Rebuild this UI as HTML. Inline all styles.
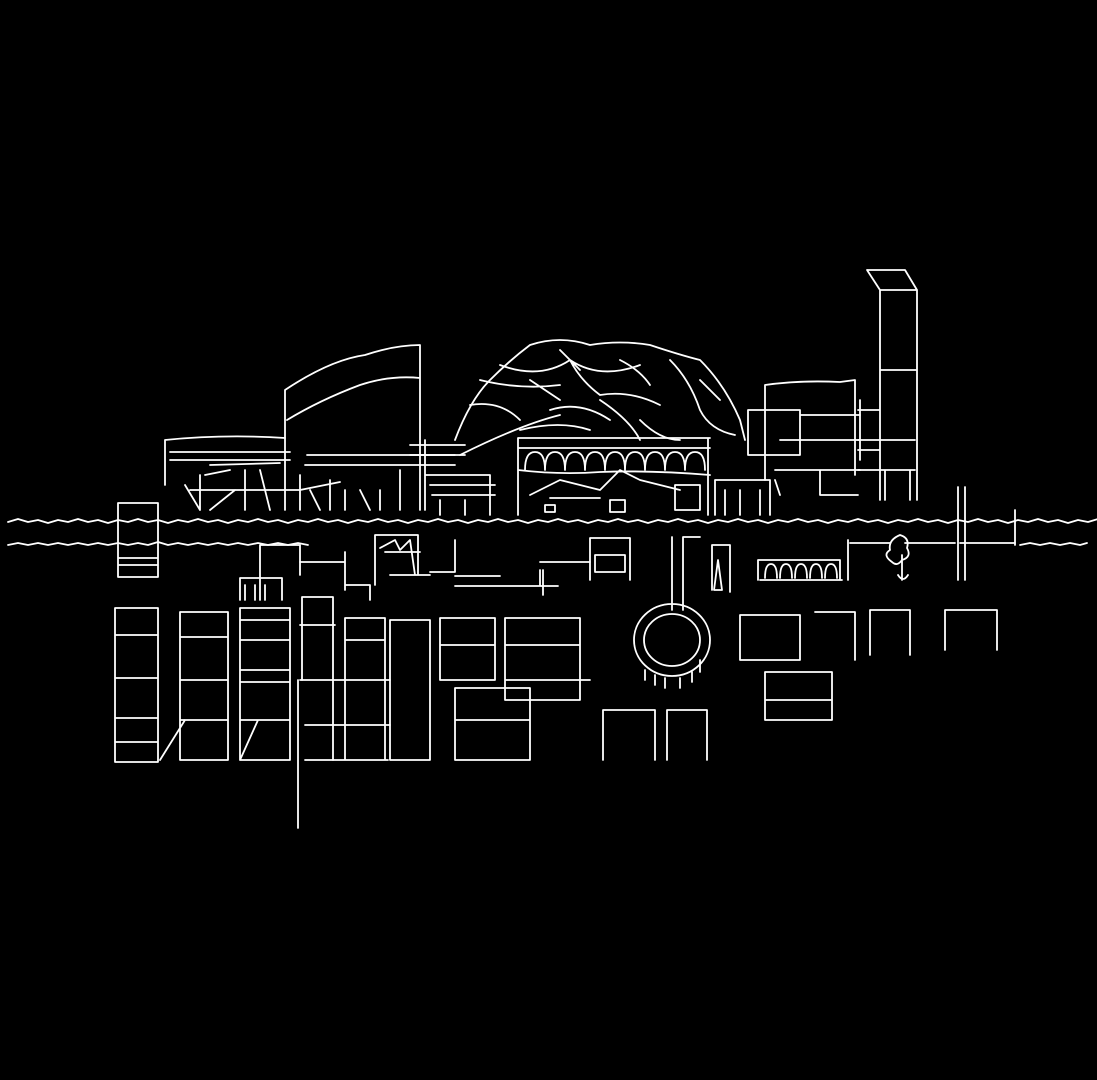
<!DOCTYPE html>
<html><head><meta charset="utf-8"><style>html,body{margin:0;padding:0;background:#000;}svg{display:block}</style></head>
<body>
<svg width="1097" height="1080" viewBox="0 0 1097 1080" xmlns="http://www.w3.org/2000/svg">
<rect width="1097" height="1080" fill="#000"/>
<g fill="none" stroke="#fff" stroke-width="1.8" stroke-linecap="round" stroke-linejoin="round">
<!-- main wavy lines -->
<path d="M8,522 l10,-3 l10,3 l10,-2 l10,3 l10,-3 l10,2 l10,-3 l10,3 l10,-2 l10,3 l10,-3 l10,2 l10,-3 l10,3 l10,-2 l10,3 l10,-3 l10,2 l10,-3 l10,3 l10,-2 l10,3 l10,-3 l10,2 l10,-3 l10,3 l10,-2 l10,3 l10,-3 l10,2 l10,-3 l10,3 l10,-2 l10,3 l10,-3 l10,2 l10,-3 l10,3 l10,-2 l10,3 l10,-3 l10,2 l10,-3 l10,3 l10,-2 l10,3 l10,-3 l10,2 l10,-3 l10,3 l10,-2 l10,3 l10,-3 l10,2 l10,-3 l10,3 l10,-2 l10,3 l10,-3 l10,2 l10,-3 l10,3 l10,-2 l10,3 l10,-3 l10,2 l10,-3 l10,3 l10,-2 l10,3 l10,-3 l10,2 l10,-3 l10,3 l10,-2 l10,3 l10,-3 l10,2 l10,-3 l10,3 l10,-2 l10,3 l10,-3 l10,2 l10,-3 l10,3 l10,-2 l10,3 l10,-3 l10,2 l10,-3 l10,3 l10,-2 l10,3 l10,-3 l10,2 l10,-3 l10,3 l10,-2 l10,3 l10,-3 l10,2 l10,-3 l10,3 l10,-2 l10,3 l10,-3 l10,2 l10,-3 l10,3 l10,-2 l10,3 l10,-3 l10,2 l10,-3 l10,3 l10,-2 l10,3 l10,-3"/>
<path d="M8,545 l10,-2 l10,2 l10,-2 l10,2 l10,-2 l10,2 l10,-2 l10,2 l10,-2 l10,2 l10,-2 l10,2 l10,-2 l10,2 l10,-3 l10,3 l10,-2 l10,2 l10,-2 l10,2 l10,-2 l10,2 l10,-2 l10,2 l10,-2 l10,2 l10,-2 l10,2 l10,-2 l10,2"/>
<path d="M1020,545 l10,-2 l10,2 l10,-2 l10,2 l10,-2 l10,2 l7,-2"/>
<path d="M850,543 h40 M905,543 h50 M960,543 h55"/>
<!-- left tall block crossing lines -->
<path d="M118,503 V577 M158,503 V577 M118,503 H158 M118,558 H158 M118,565 H158 M118,577 H158"/>
<path d="M958,487 V580 M965,487 V580 M1015,510 V545"/>
<!-- left building upper -->
<path d="M165,440 q60,-6 120,-2 M165,440 V485 M170,452 H290 M170,460 H290 M185,485 L200,510 M210,465 L280,463 M190,490 H300 L340,482 M200,475 V510 M205,475 L230,470 M245,470 V510 M260,470 L270,510 M300,475 V510 M310,490 L320,510 M330,480 V510 M345,490 V510 M360,490 L370,510 M380,490 V510 M235,490 L210,510"/>
<path d="M285,440 V510 M285,440 V390 Q330,360 365,355 Q395,345 420,345 M287,420 Q320,400 360,385 Q390,375 420,378 M420,345 V510 M307,455 H455 M305,465 H455"/>
<path d="M400,470 V510 M425,440 V510 M410,445 H465 M410,455 H465 M425,475 H490 V515 M430,485 H495 M432,495 H495 M440,500 V515 M465,500 V515"/>
<!-- dome -->
<path d="M455,440 Q470,400 490,380 Q510,360 530,345 Q560,335 590,345 Q620,340 650,345 Q680,355 700,360 Q725,385 740,420 L745,440"/>
<path d="M470,405 Q500,400 520,420 M480,380 Q520,390 560,385 M500,365 Q540,380 570,360 Q600,380 640,365 M530,380 L560,400 M570,360 Q580,380 600,395 Q630,390 660,405 M620,360 Q640,370 650,385 M670,360 Q690,380 700,410 Q710,430 735,435 M600,400 Q630,420 640,440 M550,410 Q580,400 610,420 M520,430 Q560,420 590,430 M460,455 Q520,425 560,415 M640,420 Q660,440 680,440 M700,380 L720,400 M560,350 L580,370"/>
<!-- arcade -->
<path d="M518,438 H710 M518,438 V515 M708,438 V515 M518,448 H710 M518,470 Q560,475 600,472 Q650,470 710,475"/>
<path d="M525,470 q0,-18 10,-18 q10,0 10,18 M545,470 q0,-18 10,-18 q10,0 10,18 M565,470 q0,-18 10,-18 q10,0 10,18 M585,470 q0,-18 10,-18 q10,0 10,18 M605,470 q0,-18 10,-18 q10,0 10,18 M625,470 q0,-18 10,-18 q10,0 10,18 M645,470 q0,-18 10,-18 q10,0 10,18 M665,470 q0,-18 10,-18 q10,0 10,18 M685,470 q0,-18 10,-18 q10,0 10,18"/>
<path d="M530,495 L560,480 L600,490 L620,470 L640,480 L680,490 M550,498 H600 M675,485 H700 V510 H675 Z M610,500 H625 V512 H610 Z M545,505 H555 V512 H545 Z"/>
<!-- right of dome -->
<path d="M715,480 H770 V515 M715,480 V515 M725,490 V515 M740,490 V515 M760,490 V515"/>
<path d="M765,385 Q800,380 840,382 L855,380 V475 M765,385 V480 M748,410 H800 V455 H748 Z M780,440 H860 M775,470 H860 M800,415 H860 M820,470 V495 H858 M775,480 L780,495"/>
<path d="M867,270 L880,290 H917 V500 M867,270 H905 L917,290 M880,290 V500 M880,370 H917 M860,400 V460 M858,410 H880 M858,440 H915 M858,450 H880 M858,470 H915 M885,470 V500 M910,470 V500"/>
<!-- under-line row -->
<path d="M260,545 V600 M260,545 H300 V575 M240,578 H282 V600 M240,578 V600 M245,585 V600 M255,585 V600 M265,585 V600"/>
<path d="M300,562 H345 V585 H370 V600 M345,552 V590"/>
<path d="M375,535 H418 V575 M375,535 V585 M380,548 L395,540 L400,550 L410,540 L415,575 M385,552 H420 M390,575 H430 M430,572 H455 V540"/>
<path d="M455,576 H500 M455,586 H540 M540,570 V586 H558 M543,570 V595 M540,562 H590"/>
<path d="M590,538 H630 V580 M590,538 V580 M595,555 H625 V572 H595 Z"/>
<path d="M672,537 V610 M683,537 V610 M683,537 H700"/>
<path d="M712,545 H730 V592 M712,545 V590 M718,560 L722,590 L714,590 Z"/>
<path d="M758,560 H840 V580 M758,560 V580 M760,580 H842 M765,578 q0,-14 6,-14 q6,0 6,14 M780,578 q0,-14 6,-14 q6,0 6,14 M795,578 q0,-14 6,-14 q6,0 6,14 M810,578 q0,-14 6,-14 q6,0 6,14 M825,578 q0,-14 6,-14 q6,0 6,14 M848,540 V580"/>
<path d="M900,535 q-12,5 -10,15 q-8,5 2,12 q5,5 10,-2 q10,-3 5,-12 q3,-10 -7,-13 M902,555 V580 M898,575 q5,8 10,0"/>
<!-- ring -->
<ellipse cx="672" cy="640" rx="38" ry="36"/>
<ellipse cx="672" cy="640" rx="28" ry="26"/>
<path d="M645,670 v10 M655,675 v10 M665,678 v10 M680,678 v10 M692,672 v10 M700,660 v12"/>
<!-- lower grid -->
<path d="M115,608 H158 V762 H115 Z M115,635 H158 M115,678 H158 M115,718 H158 M115,742 H158"/>
<path d="M180,612 H228 V760 H180 Z M180,637 H228 M180,680 H228 M180,720 H228 M160,760 L185,720"/>
<path d="M240,608 H290 V760 H240 Z M240,620 H290 M240,640 H290 M240,670 H290 M240,682 H290 M240,720 H290 M240,760 L258,720"/>
<path d="M302,597 H333 V760 M302,597 V680 M300,625 H335 M298,680 V828"/>
<path d="M345,618 H385 V760 H345 Z M345,640 H385 M300,680 H390 M305,725 H390 M305,760 H388 M345,680 V760"/>
<path d="M390,620 H430 V760 H390 Z M440,618 H495 V680 H440 Z M440,645 H495 M505,618 H580 V700 H505 Z M505,645 H580 M505,680 H580 M455,688 H530 V760 H455 Z M455,720 H530 M580,680 H590"/>
<path d="M740,615 H800 V660 H740 Z M815,612 H855 V660 M870,610 H910 V655 M870,610 V655 M945,610 H997 V650 M945,610 V650 M765,672 H832 V720 H765 Z M765,700 H832"/>
<path d="M603,710 H655 V760 M603,710 V760 M667,710 H707 V760 M667,710 V760"/>
</g>
</svg>
</body></html>
